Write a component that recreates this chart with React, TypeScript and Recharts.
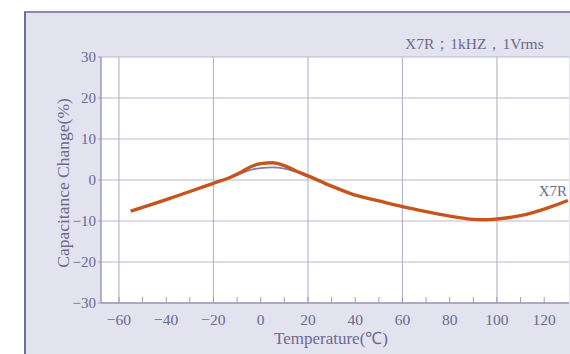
import React from 'react';
import { LineChart, Line, XAxis, YAxis, CartesianGrid, ReferenceLine } from 'recharts';

const temps = [-55, -40, -30, -20, -13, -8, -4, 0, 5, 10, 15, 20, 30, 40, 50, 60, 70, 80, 90, 95, 100, 110, 120, 130];
const x7rMeasured = [-7.6, -4.8, -2.8, -0.8, 0.6, 2.0, 3.3, 4.0, 4.2, 3.5, 2.2, 1.0, -1.5, -3.7, -5.1, -6.5, -7.7, -8.8, -9.6, -9.7, -9.5, -8.7, -7.1, -5.0];
const x7rTypical = [-7.6, -4.8, -2.8, -0.8, 0.6, 1.7, 2.5, 2.9, 3.1, 2.8, 2.0, 0.9, -1.5, -3.7, -5.1, -6.5, -7.7, -8.8, -9.6, -9.7, -9.5, -8.7, -7.1, -5.0];

const xMinorTicks = [-60, -50, -40, -30, -20, -10, 0, 10, 20, 30, 40, 50, 60, 70, 80, 90, 100, 110, 120];
const xLabelTicks = [-60, -40, -20, 0, 20, 40, 60, 80, 100, 120];
const xGridLines = [-60, -20, 20, 60, 100];
const yTicks = [-30, -20, -10, 0, 10, 20, 30];

const data = temps.map((t, i) => ({ t, measured: x7rMeasured[i], typical: x7rTypical[i] }));

const FONT = '"Liberation Serif", "Times New Roman", serif';
const TXT = '#6c6a91';
const GRID = '#b9b7cf';
const AXIS = '#9d9bbb';

const fmt = (v: number) => (v < 0 ? '\u2212' + Math.abs(v) : String(v));

const XTick = (props: any) => {
  const { x, y, payload } = props;
  const v = payload.value;
  const show = xLabelTicks.includes(v);
  return (
    <g>
      <line x1={x} x2={x} y1={y} y2={y - 6} stroke={AXIS} strokeWidth={1} />
      {show && (
        <text x={x} y={y + 22} textAnchor="middle" fill={TXT} fontSize={15.5} fontFamily={FONT}>
          {fmt(v)}
        </text>
      )}
    </g>
  );
};

export default function App() {
  return (
    <div style={{ position: 'absolute', left: 0, top: 0, width: 570, height: 354, background: '#ffffff', overflow: 'hidden' }}>
      <div
        style={{
          position: 'absolute',
          left: 24,
          top: 11,
          width: 546,
          height: 343,
          background: '#e3e2ef',
          borderLeft: '2px solid #6f6d92',
          borderTop: '2px solid #8c8aac',
          boxSizing: 'border-box',
        }}
      />
      <div style={{ position: 'absolute', left: 0, top: 0 }}>
        <LineChart width={570} height={354} data={data} margin={{ top: 57, right: 1, bottom: 0, left: 40 }}>
          <CartesianGrid vertical={false} stroke={GRID} strokeWidth={1.2} fill="#ffffff" horizontalValues={yTicks} />
          {xGridLines.map((g) => (
            <ReferenceLine key={g} x={g} stroke={GRID} strokeWidth={1.2} ifOverflow="extendDomain" />
          ))}
          <XAxis
            dataKey="t"
            type="number"
            domain={[-67.6, 130.5]}
            ticks={xMinorTicks}
            interval={0}
            height={51}
            tickSize={0}
            tickMargin={0}
            tickLine={false}
            axisLine={{ stroke: AXIS, strokeWidth: 1.5 }}
            tick={<XTick />}
            allowDataOverflow
          />
          <YAxis
            type="number"
            domain={[-30, 30]}
            ticks={yTicks}
            interval={0}
            width={61}
            tickSize={3}
            tickMargin={2}
            tickLine={{ stroke: AXIS }}
            axisLine={{ stroke: AXIS, strokeWidth: 1.5 }}
            tickFormatter={fmt}
            tick={{ fill: TXT, fontSize: 15, fontFamily: FONT }}
            allowDataOverflow
          />
          <Line
            type="monotone"
            dataKey="typical"
            stroke="#7f80a3"
            strokeWidth={1.8}
            dot={false}
            isAnimationActive={false}
          />
          <Line
            type="monotone"
            dataKey="measured"
            stroke="#c7541d"
            strokeWidth={3.4}
            dot={false}
            isAnimationActive={false}
          />
        </LineChart>
      </div>
      <svg width={570} height={354} style={{ position: 'absolute', left: 0, top: 0, pointerEvents: 'none' }}>
        <text x={405} y={49} fill={TXT} fontSize={15.5} fontFamily={FONT}>
          X7R；1kHZ，1Vrms
        </text>
        <text x={567} y={196} textAnchor="end" fill={TXT} fontSize={15} fontFamily={FONT}>
          X7R
        </text>
        <text x={331} y={344} textAnchor="middle" fill={TXT} fontSize={17} fontFamily={FONT}>
          Temperature(℃)
        </text>
        <text
          x={0}
          y={0}
          transform="translate(69,183) rotate(-90)"
          textAnchor="middle"
          fill={TXT}
          fontSize={17.5}
          fontFamily={FONT}
        >
          Capacitance Change(%)
        </text>
      </svg>
    </div>
  );
}
